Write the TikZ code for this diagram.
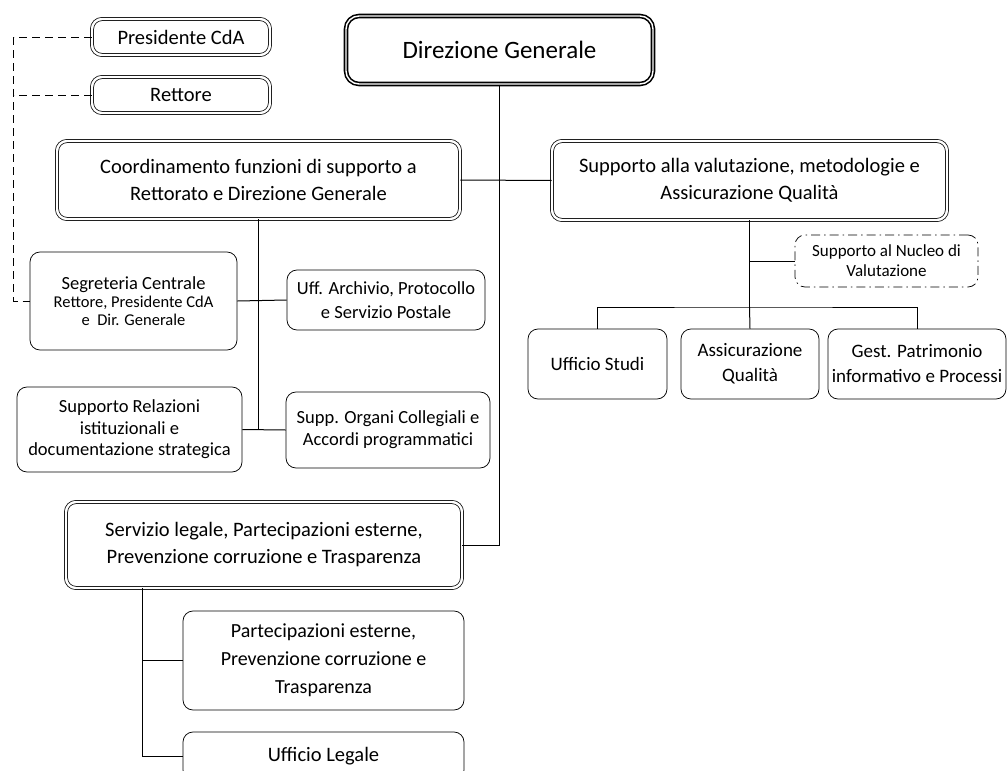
\documentclass[tikz,border=0pt]{standalone}
\usepackage{fontspec}
\setmainfont{Carlito}

\newcommand{\ftop}{\fontsize{25}{30}\selectfont}
\newcommand{\fbig}{\fontsize{20.5}{27}\selectfont}
\newcommand{\fmid}{\fontsize{18.5}{23}\selectfont}
\newcommand{\fsmall}{\fontsize{16.5}{18}\selectfont}

\tikzset{every picture/.style={line width=0.75pt}}
\tikzset{
  unitbox/.style={draw, rounded corners=10pt, align=center, inner sep=1pt, font=\fmid},
  dblbox/.style={unitbox, double, double distance=2.4pt, font=\fbig},
  topbox/.style={unitbox, rounded corners=13pt, line width=1.6pt, double, double distance=1.4pt, font=\ftop},
  dashbox/.style={unitbox, dash pattern=on 9pt off 4pt on 1.5pt off 4pt, font=\fontsize{17}{20}\selectfont},
  link/.style={line width=1pt},
  dashlink/.style={line width=1pt, dash pattern=on 8pt off 5pt},
}

\begin{document}
\begin{tikzpicture}[x=1pt,y=1pt,yscale=-1,xscale=1]
\useasboundingbox (0,0) rectangle (1007,771);
\clip (0,0) rectangle (1007,771);

% top level
\node[topbox, minimum width=307pt, minimum height=68pt] (dg) at (499.5,50) {Direzione Generale};
\node[dblbox, minimum width=178pt, minimum height=36pt] (pres) at (181,37) {Presidente CdA};
\node[dblbox, minimum width=178pt, minimum height=36pt] (rett) at (181,95) {Rettore};

% second level
\node[dblbox, minimum width=403pt, minimum height=78pt] (coord) at (258.5,180) {Coordinamento funzioni di supporto a\\Rettorato e Direzione Generale};
\node[dblbox, minimum width=395pt, minimum height=79pt] (valut) at (749.5,180.5) {Supporto alla valutazione, metodologie e\\Assicurazione Qualità};
\node[dblbox, minimum width=396pt, minimum height=86pt] (leg) at (264,545) {Servizio legale, Partecipazioni esterne,\\Prevenzione corruzione e Trasparenza};

% offices under coordinamento
\node[unitbox, minimum width=207pt, minimum height=98pt, font=\fsmall] (segr) at (133.5,301) {{\fontsize{18.5}{18}\selectfont Segreteria Centrale}\\Rettore, Presidente CdA\\e~~Dir. Generale};
\node[unitbox, minimum width=198pt, minimum height=60pt, font=\fontsize{18.5}{24}\selectfont] (arch) at (386,300) {Uff. Archivio, Protocollo\\e Servizio Postale};
\node[unitbox, minimum width=225pt, minimum height=85pt, font=\fontsize{18.5}{21.5}\selectfont] (rel) at (129.5,429.5) {Supporto Relazioni\\istituzionali e\\documentazione strategica};
\node[unitbox, minimum width=204pt, minimum height=76pt, font=\fontsize{18.5}{22}\selectfont] (org) at (388,430) {Supp. Organi Collegiali e\\Accordi programmatici};

% offices under servizio legale
\node[unitbox, minimum width=281pt, minimum height=99pt, font=\fontsize{20}{28}\selectfont] (part) at (323.5,660.5) {Partecipazioni esterne,\\Prevenzione corruzione e\\Trasparenza};
\node[unitbox, minimum width=281pt, minimum height=48pt, font=\fontsize{20.5}{24}\selectfont] (uffl) at (323.5,756) {Ufficio Legale};

% offices under valutazione
\node[dashbox, minimum width=183pt, minimum height=52pt] (nucl) at (886.5,261) {Supporto al Nucleo di\\Valutazione};
\node[unitbox, minimum width=139pt, minimum height=70pt, font=\fontsize{19}{25}\selectfont] (stud) at (597.5,364) {Ufficio Studi};
\node[unitbox, minimum width=138pt, minimum height=70pt, font=\fontsize{19}{25}\selectfont] (aq) at (750,364) {Assicurazione\\Qualità};
\node[unitbox, minimum width=178pt, minimum height=70pt, font=\fontsize{19}{25}\selectfont] (gest) at (917,364) {Gest. Patrimonio\\informativo e Processi};

% connectors
\draw[link] (dg.south) |- (leg.east);
\draw[link] (coord.east) -- (valut.west);
\coordinate (cb) at (coord.south |- org.west);
\draw[link] (coord.south) -- (cb);
\draw[link] (segr.east) -- (arch.west);
\draw[link] (rel.east) -- (org.west);
\coordinate (lt) at ([xshift=77pt]leg.south west);
\draw[link] (lt) |- (part.west);
\draw[link] (lt) |- (uffl.west);
\coordinate (vb) at (749.5,307);
\draw[link] (valut.south) -- (vb);
\draw[link] (valut.south |- nucl.west) -- (nucl.west);
\draw[link] (stud.north) |- (vb) -| (gest.north);
\draw[link] (vb) -- (aq.north);

% dashed links to the segreteria
\coordinate (dl) at ([xshift=-78pt]pres.west);
\draw[dashlink] (pres.west) -- (dl) |- (segr.west);
\draw[dashlink] (rett.west) -- (dl |- rett.west);

\end{tikzpicture}
\end{document}
